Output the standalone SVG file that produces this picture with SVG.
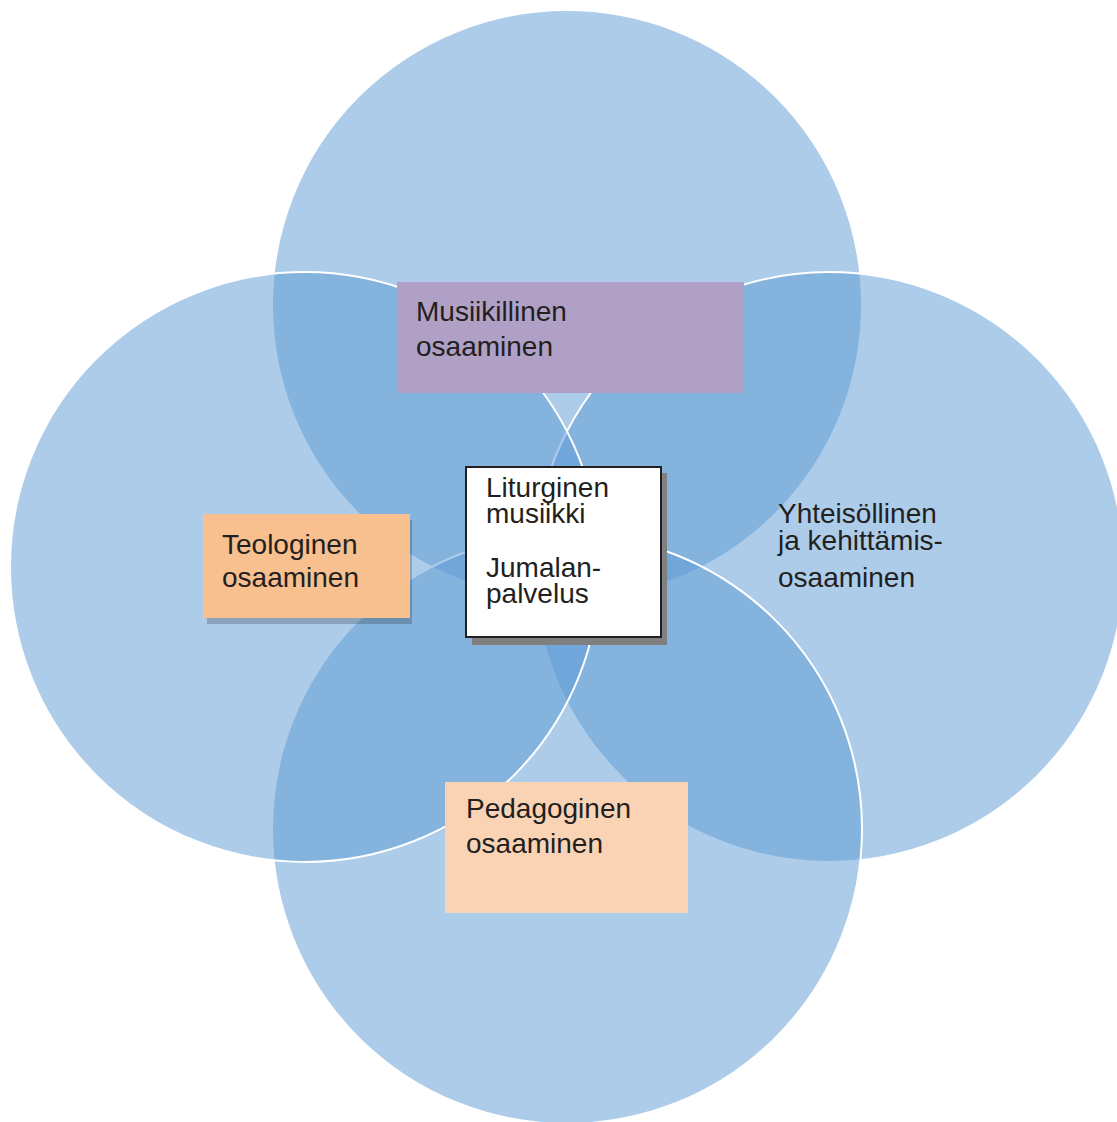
<svg xmlns="http://www.w3.org/2000/svg" width="1117" height="1122" viewBox="0 0 1117 1122">
<style>
.c{fill:#5B9AD4;fill-opacity:0.5;stroke:#FFFFFF;stroke-width:2}
.t{font-family:"Liberation Sans",Arial,sans-serif;font-size:28px;fill:#231F20}
</style>
<rect x="0" y="0" width="1117" height="1122" fill="#FFFFFF"/>
<g id="circle-top"><circle class="c" cx="567" cy="305" r="295"/></g>
<g id="circle-right"><circle class="c" cx="829" cy="567" r="295"/></g>
<g id="circle-bottom"><circle class="c" cx="567" cy="829" r="295"/></g>
<g id="circle-left"><circle class="c" cx="305" cy="567" r="295"/></g>
<g id="connectors"></g>
<g id="node-musiikillinen">
<rect x="397" y="282" width="347" height="111" fill="#B0A0C6"/>
<text class="t" x="416" y="321">Musiikillinen</text>
<text class="t" x="416" y="356">osaaminen</text>
</g>
<g id="node-teologinen">
<rect x="207" y="520" width="205" height="104" fill="#000000" fill-opacity="0.2"/>
<rect x="203" y="514" width="207" height="104" fill="#F8BF8F"/>
<text class="t" x="222" y="554">Teologinen</text>
<text class="t" x="222" y="587">osaaminen</text>
</g>
<g id="node-pedagoginen">
<rect x="445" y="782" width="243" height="131" fill="#FAD3B5"/>
<text class="t" x="466" y="818">Pedagoginen</text>
<text class="t" x="466" y="853">osaaminen</text>
</g>
<g id="node-yhteisollinen">
<text class="t" x="778" y="523">Yhteisöllinen</text>
<text class="t" x="778" y="550">ja kehittämis-</text>
<text class="t" x="778" y="587">osaaminen</text>
</g>
<g id="node-center">
<rect x="472" y="473" width="195" height="172" fill="#808080"/>
<rect x="466" y="467" width="195" height="170" fill="#FFFFFF" stroke="#231F20" stroke-width="2"/>
<text class="t" x="486" y="497">Liturginen</text>
<text class="t" x="486" y="523">musiikki</text>
<text class="t" x="486" y="577">Jumalan-</text>
<text class="t" x="486" y="603">palvelus</text>
</g>
</svg>
